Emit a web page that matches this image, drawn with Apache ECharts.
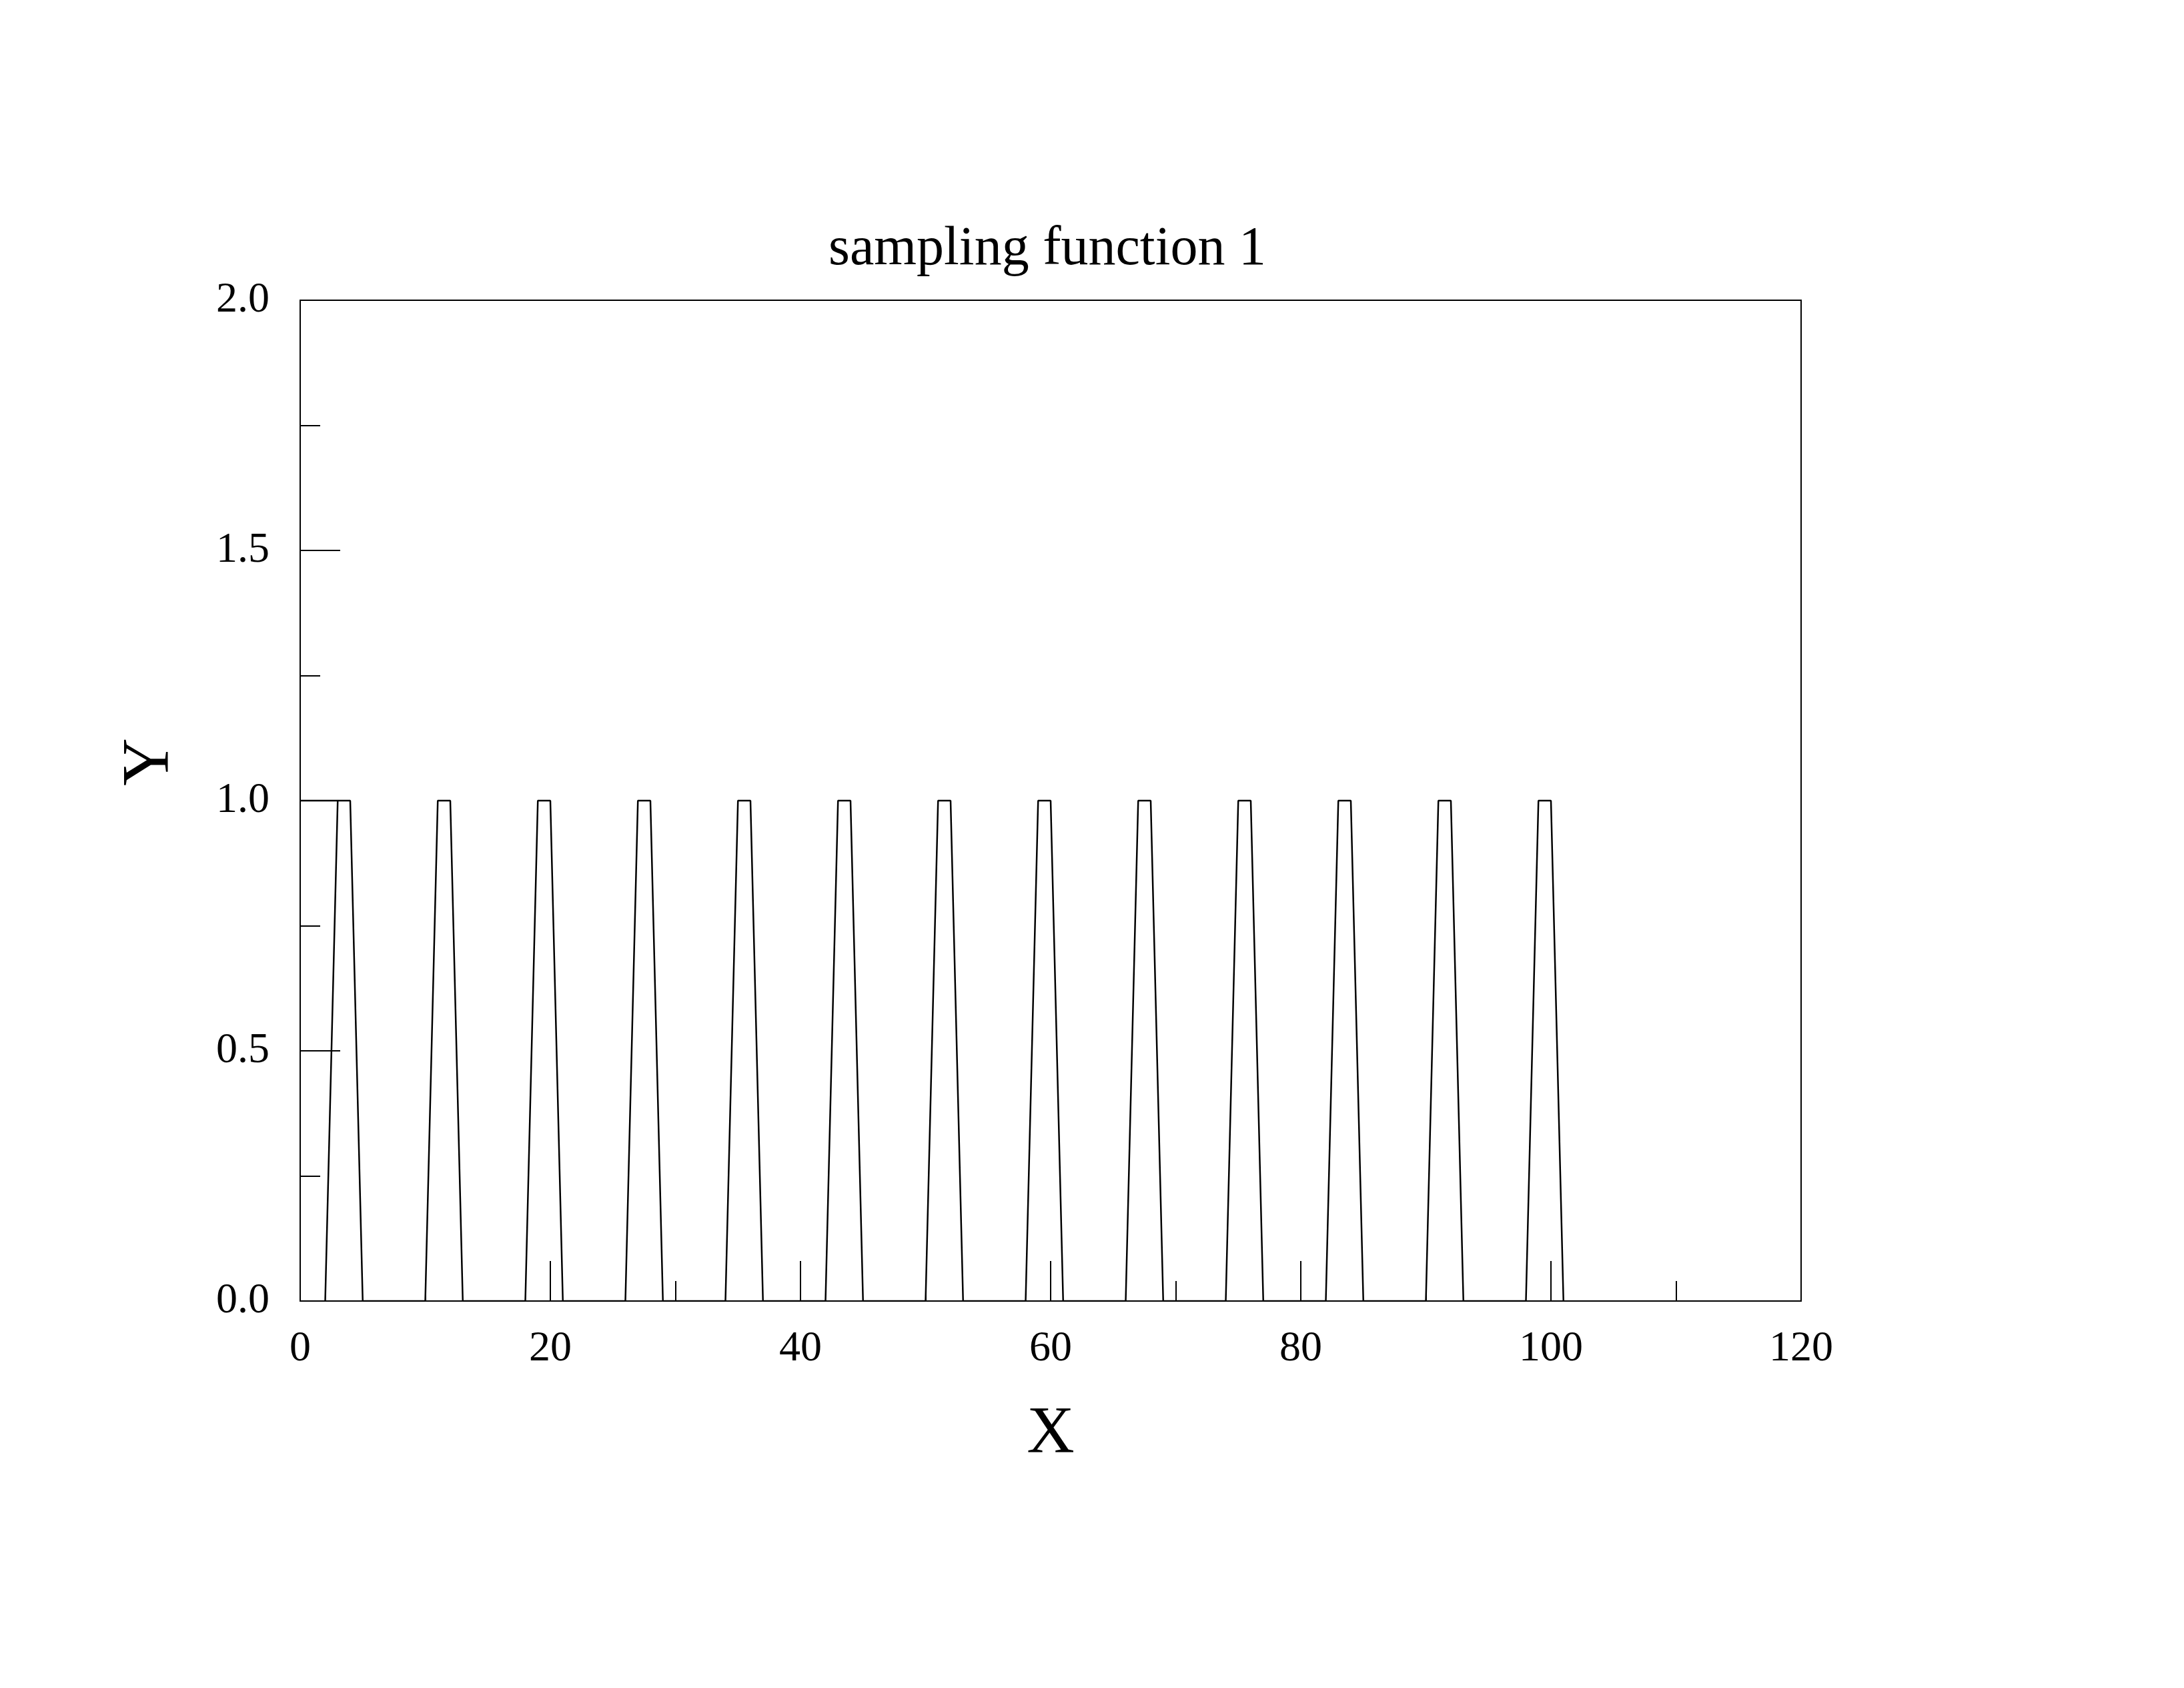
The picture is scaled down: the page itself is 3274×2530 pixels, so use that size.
<!DOCTYPE html>
<html>
<head>
<meta charset="utf-8">
<script src="https://cdn.jsdelivr.net/npm/echarts@6/dist/echarts.min.js"></script>
<style>html,body{margin:0;padding:0;background:#fff}#chart{width:3274px;height:2530px}</style>
</head>
<body>
<div id="chart"></div>
<script>
// Leading segment at y = 1 from the y-axis to the first pulse top
const leadX = [0, 3];
const leadY = [1, 1];
// Pulse train (rise, top, top, fall)
const pulseX = [2, 3, 4, 5, 10, 11, 12, 13, 18, 19, 20, 21, 26, 27, 28, 29, 34, 35, 36, 37,
                42, 43, 44, 45, 50, 51, 52, 53, 58, 59, 60, 61, 66, 67, 68, 69, 74, 75, 76, 77,
                82, 83, 84, 85, 90, 91, 92, 93, 98, 99, 100, 101];
const pulseY = [0, 1, 1, 0, 0, 1, 1, 0, 0, 1, 1, 0, 0, 1, 1, 0, 0, 1, 1, 0,
                0, 1, 1, 0, 0, 1, 1, 0, 0, 1, 1, 0, 0, 1, 1, 0, 0, 1, 1, 0,
                0, 1, 1, 0, 0, 1, 1, 0, 0, 1, 1, 0];
const titleText = 'sampling function 1';
const xName = 'X';
const yName = 'Y';

const FONT = "'Liberation Serif', 'Times New Roman', serif";
const chart = echarts.init(document.getElementById('chart'), null, {renderer: 'canvas'});
chart.setOption({
  backgroundColor: '#fff',
  animation: false,
  title: {
    text: titleText, left: 1237, top: 328,
    textStyle: {fontFamily: FONT, fontSize: 82, fontWeight: 'normal', color: '#000'}
  },
  grid: {left: 450, top: 450, right: 574, bottom: 580, show: true, borderColor: '#000', borderWidth: 2, backgroundColor: 'transparent'},
  xAxis: {
    type: 'value', min: 0, max: 120, interval: 20,
    name: xName, nameLocation: 'middle', nameGap: 150,
    nameTextStyle: {fontFamily: FONT, fontSize: 99, color: '#000'},
    axisLine: {show: true, onZero: false, lineStyle: {color: '#000', width: 2}},
    axisTick: {show: true, inside: true, length: 60, lineStyle: {color: '#000', width: 2}},
    minorTick: {show: true, splitNumber: 2, length: 30, lineStyle: {color: '#000', width: 2}},
    splitLine: {show: false},
    axisLabel: {fontFamily: FONT, fontSize: 64, color: '#000', margin: 40}
  },
  yAxis: {
    type: 'value', min: 0, max: 2, interval: 0.5,
    name: yName, nameLocation: 'middle', nameGap: 176,
    nameTextStyle: {fontFamily: FONT, fontSize: 99, color: '#000', padding: [0, 0, 0, 116]},
    axisLine: {show: true, onZero: false, lineStyle: {color: '#000', width: 2}},
    axisTick: {show: true, inside: true, length: 60, lineStyle: {color: '#000', width: 2}},
    minorTick: {show: true, splitNumber: 2, length: 30, lineStyle: {color: '#000', width: 2}},
    splitLine: {show: false},
    axisLabel: {fontFamily: FONT, fontSize: 64, color: '#000', margin: 46, padding: [10, 0, 0, 0], formatter: v => v.toFixed(1)}
  },
  series: [
    {
      type: 'line', showSymbol: false, symbol: 'none', silent: true,
      data: leadX.map((x, i) => [x, leadY[i]]),
      lineStyle: {color: '#000', width: 2.5}
    },
    {
      type: 'line', showSymbol: false, symbol: 'none', silent: true,
      data: pulseX.map((x, i) => [x, pulseY[i]]),
      lineStyle: {color: '#000', width: 2.5}
    }
  ]
});
</script>
</body>
</html>
